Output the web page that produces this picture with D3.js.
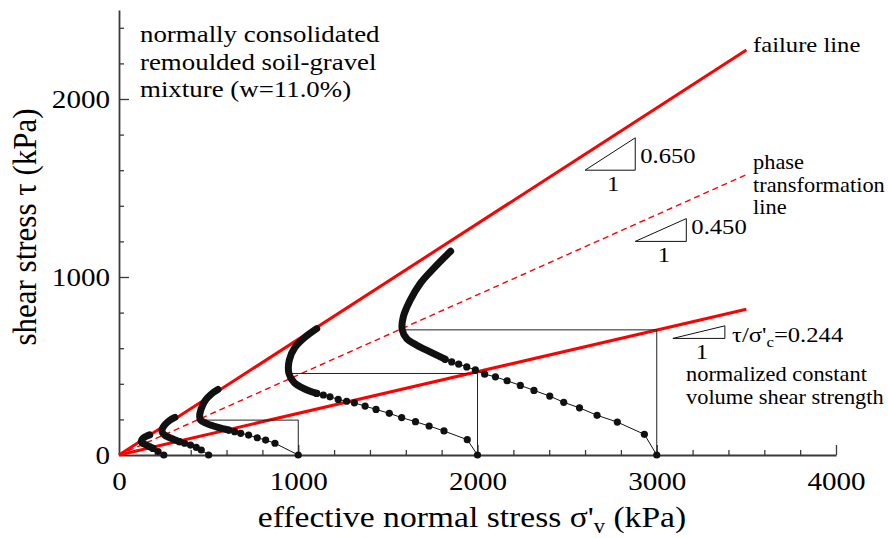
<!DOCTYPE html>
<html>
<head>
<script src="https://cdn.jsdelivr.net/npm/d3@7"></script>
</head>
<body style="margin:0">
<svg id="chart" width="888" height="538" style="font-family: 'Liberation Serif'"></svg>
<script>
// axis ticks
const xMajorTicks = [0, 1000, 2000, 3000, 4000];
const yMajorTicks = [0, 1000, 2000];

// consolidation stresses of the five tests (kPa)
const consolidationStress = [250, 500, 1000, 2000, 3000];

// stress paths [sigma'v, tau]
// sparse measured points (dots)
const dots250 = [[250, 0], [218, 19], [190, 37]];
const dots500 = [[500, 0], [459, 28], [431, 43], [399, 56], [366, 66], [338, 75]];
const dots1000 = [[1000, 0], [870, 66], [818, 84], [771, 97], [723, 112], [679, 122], [645, 131], [612, 140]];
const dots2000 = [[2000, 0], [1943, 86], [1813, 135], [1730, 163], [1654, 187], [1577, 210], [1508, 234],
  [1434, 256], [1373, 275], [1313, 293], [1270, 302], [1223, 312], [1177, 327], [1140, 337], [1103, 346]];
const dots3000 = [[3000, 0], [2931, 116], [2780, 185], [2667, 223], [2569, 265], [2481, 296], [2403, 331],
  [2315, 363], [2239, 391], [2165, 417], [2100, 439], [2040, 454], [1988, 478], [1940, 495], [1895, 510],
  [1856, 523], [1819, 538]];
// dense part of each path (drawn as a thick line)
const curve250 = [[190, 37], [152, 56], [128, 68], [124, 78], [133, 93], [150, 104], [171, 113]];
const curve500 = [[338, 75], [291, 94], [254, 112], [240, 131], [243, 150], [256, 170], [282, 194], [312, 211]];
const curve1000 = [[612, 140], [552, 155], [487, 178], [455, 196], [450, 218], [457, 255], [481, 306], [518, 345], [552, 368]];
const curve2000 = [[1103, 346], [1029, 374], [975, 410], [948, 458], [950, 533], [982, 605], [1038, 662], [1103, 710]];
const curve3000 = [[1819, 538], [1735, 580], [1661, 617], [1605, 654], [1580, 703], [1586, 776], [1624, 869],
  [1680, 963], [1754, 1047], [1850, 1145]];

// phase transformation points and their reference lines
const refStress = [1000, 2000, 3000];
const refPtSigma = [450, 948, 1580];
const refPtTau = [196, 458, 703];

// strength lines
const failureSlope = 0.65;
const ptSlope = 0.45;
const cvSlope = 0.234;
const lineEnd = 3500;

const FONT = '"Liberation Serif"';
const sx = 1.12; // the reference type is a little wide
const svg = d3.select('#chart');

const x = d3.scaleLinear().domain([0, 4000]).range([119, 836]);
const y = d3.scaleLinear().domain([0, 2500]).range([455, 10]);

// --- axes
const axisColor = '#3a3a3a';
function styleAxis(g) {
  g.attr('font-family', null).attr('font-size', null);
  g.select('.domain').attr('stroke', axisColor).attr('stroke-width', 1.8);
  g.selectAll('.tick line').attr('stroke', axisColor).attr('stroke-width', 1.3);
  g.selectAll('.tick text')
    .attr('fill', '#000')
    .attr('font-size', 26)
    .style('font-family', FONT);
}

const xMinor = d3.range(200, 4000, 200).filter(v => v % 1000 !== 0);
const yMinor = d3.range(200, 2500, 200).filter(v => v % 1000 !== 0);

svg.append('g')
  .attr('transform', `translate(0,${y(0)})`)
  .call(d3.axisBottom(x).tickValues(xMinor).tickSize(-5).tickFormat(''))
  .call(g => g.select('.domain').remove())
  .call(styleAxis);
svg.append('g')
  .attr('transform', `translate(${x(0)},0)`)
  .call(d3.axisLeft(y).tickValues(yMinor).tickSize(-5).tickFormat(''))
  .call(g => g.select('.domain').remove())
  .call(styleAxis);

const xAxis = svg.append('g')
  .attr('transform', `translate(0,${y(0)})`)
  .call(d3.axisBottom(x).tickValues(xMajorTicks).tickSizeInner(-10).tickSizeOuter(0).tickPadding(17).tickFormat(d3.format('d')))
  .call(styleAxis);
xAxis.selectAll('.tick text').attr('transform', `scale(${sx},1)`);

const yAxis = svg.append('g')
  .attr('transform', `translate(${x(0)},0)`)
  .call(d3.axisLeft(y).tickValues(yMajorTicks).tickSizeInner(-10).tickSizeOuter(0).tickPadding(8).tickFormat(d3.format('d')))
  .call(styleAxis);
yAxis.selectAll('.tick text').attr('transform', `scale(${sx},1)`);
yAxis.selectAll('.tick').filter(d => d === 0).select('line').remove();
xAxis.selectAll('.tick').filter(d => d === 0).select('line').remove();

// --- helper for text
function addText(px, py, size, anchor) {
  return svg.append('text')
    .attr('transform', `translate(${px},${py}) scale(${sx},1)`)
    .style('font-family', FONT)
    .attr('font-size', size)
    .attr('text-anchor', anchor || 'start')
    .attr('fill', '#000');
}

// axis titles
const xt = addText(472, 527, 30, 'middle');
xt.append('tspan').text("effective normal stress \u03C3'");
xt.append('tspan').attr('font-size', 20).attr('dy', 6).text('v');
xt.append('tspan').attr('dy', -6).text(' (kPa)');

svg.append('text')
  .attr('transform', `translate(36,227) rotate(-90) scale(1,${sx})`)
  .style('font-family', FONT)
  .attr('font-size', 31)
  .attr('text-anchor', 'middle')
  .text('shear stress \u03C4 (kPa)');

// --- strength lines
const lineGen = d3.line().x(d => x(d[0])).y(d => y(d[1]));
svg.append('path')
  .datum([[0, 0], [lineEnd, lineEnd * failureSlope]])
  .attr('d', lineGen).attr('fill', 'none')
  .attr('stroke', '#ff0000').attr('stroke-width', 3);
svg.append('path')
  .datum([[0, 0], [lineEnd, lineEnd * ptSlope]])
  .attr('d', lineGen).attr('fill', 'none')
  .attr('stroke', '#ff0000').attr('stroke-width', 1.4)
  .attr('stroke-dasharray', '6,4');
svg.append('path')
  .datum([[0, 0], [lineEnd, lineEnd * cvSlope]])
  .attr('d', lineGen).attr('fill', 'none')
  .attr('stroke', '#ff0000').attr('stroke-width', 3);

// --- reference lines from phase transformation point
refStress.forEach((s, i) => {
  svg.append('path')
    .datum([[refPtSigma[i], refPtTau[i]], [s, refPtTau[i]], [s, 0]])
    .attr('d', lineGen).attr('fill', 'none')
    .attr('stroke', '#222').attr('stroke-width', 1);
});

// --- stress paths
const tests = [
  { sc: consolidationStress[0], dots: dots250, curve: curve250 },
  { sc: consolidationStress[1], dots: dots500, curve: curve500 },
  { sc: consolidationStress[2], dots: dots1000, curve: curve1000 },
  { sc: consolidationStress[3], dots: dots2000, curve: curve2000 },
  { sc: consolidationStress[4], dots: dots3000, curve: curve3000 }
];
const smooth = d3.line().x(d => x(d[0])).y(d => y(d[1])).curve(d3.curveCatmullRom.alpha(0.5));

tests.forEach(t => {
  const g = svg.append('g');
  g.append('path')
    .datum(t.dots)
    .attr('d', lineGen).attr('fill', 'none')
    .attr('stroke', '#111').attr('stroke-width', 1);
  g.append('path')
    .datum(t.curve)
    .attr('d', smooth).attr('fill', 'none')
    .attr('stroke', '#111').attr('stroke-width', 7)
    .attr('stroke-linecap', 'round').attr('stroke-linejoin', 'round');
  g.selectAll('circle')
    .data(t.dots)
    .join('circle')
    .attr('cx', d => x(d[0])).attr('cy', d => y(d[1]))
    .attr('r', 3.6).attr('fill', '#111');
});

// --- slope triangles
const triangles = [
  { s0: 2600, t0: 1600, run: 280, slope: failureSlope, label: '0.650' },
  { s0: 2880, t0: 1200, run: 285, slope: ptSlope, label: '0.450' },
  { s0: 3090, t0: 655, run: 290, slope: 0.244, label: null }
];
triangles.forEach(tr => {
  const p = [[tr.s0, tr.t0], [tr.s0 + tr.run, tr.t0], [tr.s0 + tr.run, tr.t0 + tr.run * tr.slope]];
  svg.append('path')
    .attr('d', lineGen(p) + 'Z')
    .attr('fill', 'none').attr('stroke', '#111').attr('stroke-width', 1);
  const xr = x(tr.s0 + tr.run), yb = y(tr.t0);
  addText((x(tr.s0) + xr) / 2 + 3, yb + 21, 22, 'middle').text('1');
  if (tr.label) addText(xr + 5, yb - 7, 22, 'start').text(tr.label);
});

// tau / sigma'c label
const cvl = addText(732, 342, 22, 'start');
cvl.append('tspan').text("\u03C4/\u03C3'");
cvl.append('tspan').attr('font-size', 15).attr('dy', 5).text('c');
cvl.append('tspan').attr('dy', -5).text('=0.244');

// --- annotations
addText(140, 42, 24).text('normally consolidated');
addText(140, 69.5, 24).text('remoulded soil-gravel');
addText(140, 97, 24).text('mixture (w=11.0%)');

addText(753, 52, 22).text('failure line');
addText(753, 169, 20).text('phase');
addText(753, 192, 20).text('transformation');
addText(753, 214, 20).text('line');

addText(686, 381, 20).text('normalized constant');
addText(686, 404, 20).text('volume shear strength');
</script>
</body>
</html>
